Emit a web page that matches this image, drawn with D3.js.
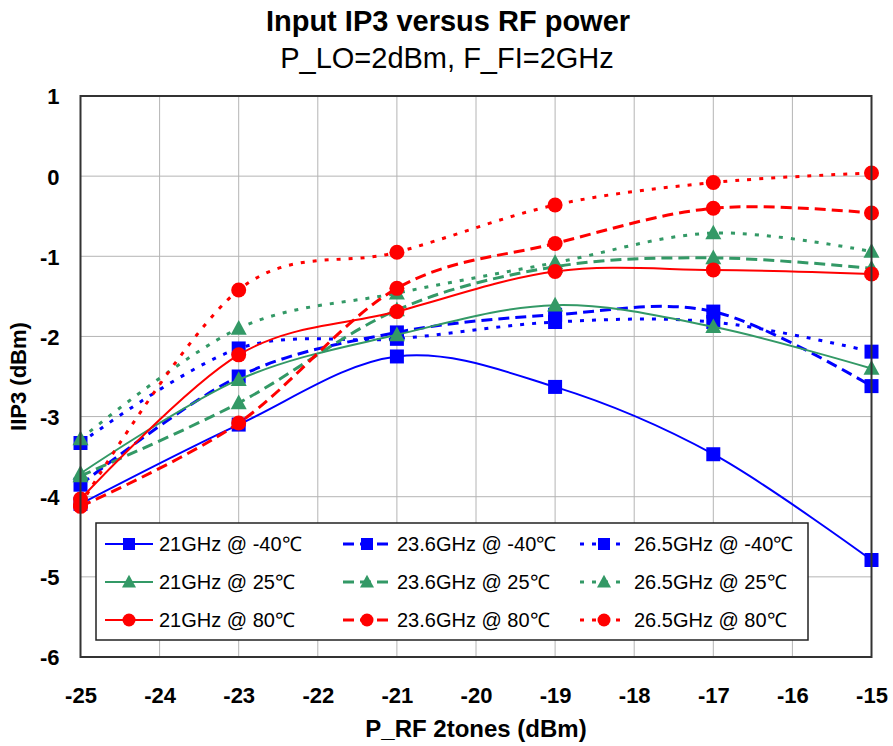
<!DOCTYPE html>
<html><head><meta charset="utf-8">
<script src="https://cdn.jsdelivr.net/npm/d3@7"></script>
<style>body{margin:0;background:#fff;} svg{display:block;font-family:"Liberation Sans",Arial,sans-serif;}</style>
</head><body>
<svg id="chart" width="893" height="746"></svg>
<script>
const xValues = [-25, -23, -21, -19, -17, -15];
const xTicks = [-25, -24, -23, -22, -21, -20, -19, -18, -17, -16, -15];
const yTicks = [1, 0, -1, -2, -3, -4, -5, -6];

const f21_m40  = [-4.09, -3.10, -2.25, -2.63, -3.47, -4.79];
const f236_m40 = [-3.85, -2.50, -1.95, -1.73, -1.69, -2.62];
const f265_m40 = [-3.33, -2.15, -2.03, -1.82, -1.82, -2.19];
const f21_25   = [-3.71, -2.54, -1.98, -1.61, -1.88, -2.40];
const f236_25  = [-3.74, -2.83, -1.67, -1.13, -1.02, -1.15];
const f265_25  = [-3.28, -1.90, -1.46, -1.08, -0.71, -0.94];
const f21_80   = [-4.03, -2.23, -1.69, -1.19, -1.17, -1.22];
const f236_80  = [-4.12, -3.08, -1.40, -0.84, -0.40, -0.46];
const f265_80  = [-4.10, -1.42, -0.95, -0.36, -0.08, 0.04];

const seriesNames = ["21GHz @ -40℃","23.6GHz @ -40℃","26.5GHz @ -40℃",
                     "21GHz @ 25℃","23.6GHz @ 25℃","26.5GHz @ 25℃",
                     "21GHz @ 80℃","23.6GHz @ 80℃","26.5GHz @ 80℃"];
const seriesValues = [f21_m40, f236_m40, f265_m40, f21_25, f236_25, f265_25, f21_80, f236_80, f265_80];

const BLUE = "#0000FF", GREEN = "#339966", RED = "#FF0000";
const colors = [BLUE, BLUE, BLUE, GREEN, GREEN, GREEN, RED, RED, RED];
const markers = ["square","square","square","triangle","triangle","triangle","circle","circle","circle"];
const styles = ["solid","dash","dot","solid","dash","dot","solid","dash","dot"];
const dashArr = {solid: null, dash: "11,6", dot: "4,8"};
const widths = {solid: 2, dash: 3, dot: 3};

const svg = d3.select("#chart");
const L = 80.5, R = 871.5, T = 96, B = 657;
const x = d3.scaleLinear().domain([-25, -15]).range([L, R]);
const y = d3.scaleLinear().domain([-6, 1]).range([B, T]);

// title
svg.append("text").attr("x", 448).attr("y", 31).attr("text-anchor", "middle")
  .attr("font-weight", "bold").attr("font-size", 29).text("Input IP3 versus RF power");
svg.append("text").attr("x", 447).attr("y", 68).attr("text-anchor", "middle")
  .attr("font-size", 29).text("P_LO=2dBm, F_FI=2GHz");

// grid
const g = svg.append("g");
g.selectAll("line.vg").data(xTicks).join("line")
  .attr("x1", d => x(d)).attr("x2", d => x(d)).attr("y1", T).attr("y2", B)
  .attr("stroke", "#b4b4b4").attr("stroke-width", 1);
g.selectAll("line.hg").data(yTicks).join("line")
  .attr("x1", L).attr("x2", R).attr("y1", d => y(d)).attr("y2", d => y(d))
  .attr("stroke", "#b4b4b4").attr("stroke-width", 1);

// axes labels via d3 axes
const fmt = d => String(d);
const xAxis = d3.axisBottom(x).tickValues(xTicks).tickSize(0).tickPadding(0).tickFormat(fmt);
const xg = svg.append("g").attr("transform", `translate(0,${B})`).call(xAxis);
xg.select(".domain").remove();
xg.selectAll("text").attr("font-size", 22).attr("font-weight", "bold")
  .attr("font-family", "Liberation Sans, Arial, sans-serif").attr("fill", "#000")
  .attr("dy", null).attr("y", 46);
const yAxis = d3.axisLeft(y).tickValues(yTicks).tickSize(0).tickPadding(0).tickFormat(fmt);
const yg = svg.append("g").attr("transform", `translate(${L - 21},0)`).call(yAxis);
yg.select(".domain").remove();
yg.selectAll("text").attr("font-size", 22).attr("font-weight", "bold")
  .attr("font-family", "Liberation Sans, Arial, sans-serif").attr("fill", "#000")
  .attr("dy", "0.36em");

svg.append("text").attr("x", (L + R) / 2).attr("y", 737).attr("text-anchor", "middle")
  .attr("font-weight", "bold").attr("font-size", 24).text("P_RF 2tones (dBm)");
svg.append("text").attr("transform", `translate(26,${(T + B) / 2}) rotate(-90)`)
  .attr("text-anchor", "middle").attr("font-weight", "bold").attr("font-size", 22).text("IIP3 (dBm)");

function markerPath(type, s) {
  if (type === "square") return `M${-s/2},${-s/2}h${s}v${s}h${-s}Z`;
  if (type === "circle") { const r = s/2 + 0.5; return `M${-r},0a${r},${r} 0 1,0 ${2*r},0a${r},${r} 0 1,0 ${-2*r},0Z`; }
  const w = s + 2, h = s;
  return `M0,${-h*0.6}L${w/2},${h*0.45}L${-w/2},${h*0.45}Z`;
}

// series
const line = d3.line().x(d => x(d[0])).y(d => y(d[1])).curve(d3.curveCardinal.tension(0));
const plot = svg.append("g");
seriesValues.forEach((vals, i) => {
  const pts = xValues.map((xv, j) => [xv, vals[j]]);
  plot.append("path").datum(pts).attr("d", line).attr("fill", "none")
    .attr("stroke", colors[i]).attr("stroke-width", widths[styles[i]])
    .attr("stroke-dasharray", dashArr[styles[i]]);
  plot.selectAll(null).data(pts).join("path")
    .attr("transform", d => `translate(${x(d[0])},${y(d[1])})`)
    .attr("d", markerPath(markers[i], 14)).attr("fill", colors[i]);
});

// frame
svg.append("rect").attr("x", L).attr("y", T).attr("width", R - L).attr("height", B - T)
  .attr("fill", "none").attr("stroke", "#333").attr("stroke-width", 2);

// legend
const lg = svg.append("g");
lg.append("rect").attr("x", 96).attr("y", 523).attr("width", 712).attr("height", 117)
  .attr("fill", "#fff").attr("stroke", "#222").attr("stroke-width", 1.5);
const colX = [105, 343, 580];
const rowY = [544, 582, 620];
seriesNames.forEach((name, i) => {
  const c = i % 3, r = Math.floor(i / 3);
  const x0 = colX[c], yy = rowY[r];
  lg.append("line").attr("x1", x0).attr("x2", x0 + 48).attr("y1", yy).attr("y2", yy)
    .attr("stroke", colors[i]).attr("stroke-width", widths[styles[i]])
    .attr("stroke-dasharray", dashArr[styles[i]]);
  lg.append("path").attr("transform", `translate(${x0 + 24},${yy})`)
    .attr("d", markerPath(markers[i], 12)).attr("fill", colors[i]);
  lg.append("text").attr("x", x0 + 54).attr("y", yy).attr("dy", "0.36em")
    .attr("font-size", 20).text(name);
});
</script>
</body></html>
